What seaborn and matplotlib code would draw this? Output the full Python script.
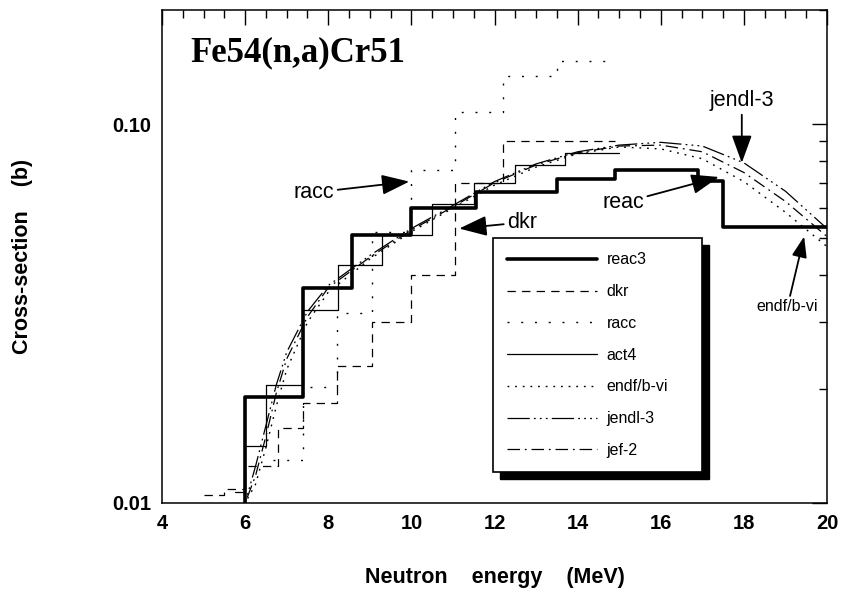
import numpy as np
import pandas as pd
import matplotlib
matplotlib.use("Agg")
import matplotlib.pyplot as plt
import matplotlib.ticker as mticker
from matplotlib.patches import Rectangle
import seaborn as sns

# ---------------- data ----------------
reac3_edges = [5.0, 6.0, 7.4, 8.57, 10.0, 11.55, 13.5, 14.9, 16.9, 17.5, 20.0]
reac3_vals = [0.005, 0.019, 0.037, 0.051, 0.060, 0.066, 0.0715, 0.0755, 0.0707, 0.0534]

dkr_edges = [5.0, 5.5, 6.0, 6.8, 7.4, 8.2, 9.05, 10.0, 11.05, 12.2, 14.9]
dkr_vals = [0.0105, 0.0109, 0.0125, 0.0158, 0.0184, 0.023, 0.030, 0.040, 0.070, 0.090]

racc_edges = [6.67, 7.4, 8.2, 9.05, 10.0, 11.05, 12.2, 13.5, 14.9]
racc_vals = [0.013, 0.0202, 0.0318, 0.052, 0.0758, 0.1077, 0.134, 0.147]

act4_edges = [5.75, 6.0, 6.5, 7.4, 8.23, 9.3, 10.5, 11.5, 12.5, 13.7, 15.0]
act4_vals = [0.0107, 0.0141, 0.0205, 0.0324, 0.0424, 0.051, 0.0615, 0.070, 0.078, 0.084]

curve_energy = [5.9, 6.0, 6.25, 6.5, 6.75, 7.0, 7.5, 8.0, 9.0, 10.0, 11.0, 12.0,
                13.0, 14.0, 15.0, 16.0, 17.0, 18.0, 19.0, 20.0]
endf_vals = [0.0090, 0.0100, 0.0112, 0.0140, 0.0180, 0.0225, 0.0300, 0.0360, 0.0440,
             0.0520, 0.0600, 0.0690, 0.0770, 0.0835, 0.0870, 0.0860, 0.0810, 0.0705,
             0.0585, 0.0475]
jendl3_vals = [0.0090, 0.0100, 0.0125, 0.0160, 0.0205, 0.0250, 0.0320, 0.0375, 0.0450,
               0.0530, 0.0610, 0.0705, 0.0785, 0.0845, 0.0880, 0.0895, 0.0875, 0.0790,
               0.0665, 0.0530]
jef2_vals = [0.0090, 0.0100, 0.0118, 0.0150, 0.0195, 0.0240, 0.0310, 0.0370, 0.0445,
             0.0525, 0.0605, 0.0700, 0.0780, 0.0840, 0.0875, 0.0880, 0.0845, 0.0745,
             0.0625, 0.0505]

series_names = ["reac3", "dkr", "racc", "act4", "endf/b-vi", "jendl-3", "jef-2"]
xtick_vals = [4, 6, 8, 10, 12, 14, 16, 18, 20]
ytick_vals = [0.01, 0.1]
ytick_labels = ["0.01", "0.10"]

title_text = "Fe54(n,a)Cr51"
xlabel_text = "Neutron    energy    (MeV)"
ylabel_text = "Cross-section    (b)"

# ---------------- figure ----------------
sns.set_theme(style="white")
plt.rcParams["font.family"] = ["Liberation Sans", "DejaVu Sans"]
plt.rcParams["lines.scale_dashes"] = False
plt.rcParams["axes.edgecolor"] = "black"
plt.rcParams["text.color"] = "black"
plt.rcParams["axes.labelcolor"] = "black"
plt.rcParams["xtick.color"] = "black"
plt.rcParams["ytick.color"] = "black"

fig = plt.figure(figsize=(8.44, 5.94), dpi=100)
ax = fig.add_axes([162 / 844, 1 - 503 / 594, 665 / 844, 493 / 594])


def step_df(edges, vals):
    return pd.DataFrame({"E": edges, "s": list(vals) + [vals[-1]]})


styles = {
    "reac3": dict(lw=2.6, ls="-"),
    "dkr": dict(lw=0.9, ls=(0, (6, 4.5))),
    "racc": dict(lw=1.0, ls=(0, (1.4, 8.5))),
    "act4": dict(lw=0.9, ls="-"),
    "endf/b-vi": dict(lw=1.0, ls=(0, (1.3, 4.2))),
    "jendl-3": dict(lw=0.9, ls=(0, (16, 3, 1.3, 3, 1.3, 3, 1.3, 3))),
    "jef-2": dict(lw=0.9, ls=(0, (9, 3.5, 1.3, 3.5))),
}

step_data = {
    "reac3": step_df(reac3_edges, reac3_vals),
    "dkr": step_df(dkr_edges, dkr_vals),
    "racc": step_df(racc_edges, racc_vals),
    "act4": step_df(act4_edges, act4_vals),
}
curve_data = {
    "endf/b-vi": pd.DataFrame({"E": curve_energy, "s": endf_vals}),
    "jendl-3": pd.DataFrame({"E": curve_energy, "s": jendl3_vals}),
    "jef-2": pd.DataFrame({"E": curve_energy, "s": jef2_vals}),
}

for name in series_names:
    st = styles[name]
    if name in step_data:
        sns.lineplot(data=step_data[name], x="E", y="s", ax=ax, color="black",
                     lw=st["lw"], linestyle=st["ls"], drawstyle="steps-post",
                     label=name, sort=False, estimator=None)
    else:
        sns.lineplot(data=curve_data[name], x="E", y="s", ax=ax, color="black",
                     lw=st["lw"], linestyle=st["ls"], label=name,
                     sort=False, estimator=None)

ax.set_yscale("log")
ax.set_xlim(4, 20)
ax.set_ylim(0.01, 0.2)

ax.set_xticks(xtick_vals)
ax.set_xticklabels([str(v) for v in xtick_vals], fontweight="bold")
ax.xaxis.set_minor_locator(mticker.MultipleLocator(0.5))
ax.set_yticks(ytick_vals)
ax.set_yticklabels(ytick_labels, fontweight="bold")
ax.yaxis.set_minor_locator(mticker.LogLocator(base=10, subs=np.arange(2, 10)))
ax.yaxis.set_minor_formatter(mticker.NullFormatter())

ax.tick_params(which="both", direction="in", top=True, right=True, colors="black",
               width=1.0)
ax.tick_params(which="major", length=11, labelsize=14.5, pad=8)
ax.tick_params(which="minor", length=5.5)
for s in ax.spines.values():
    s.set_linewidth(1.1)
    s.set_color("black")

ax.set_xlabel(xlabel_text, fontsize=15.5, fontweight="bold")
ax.set_ylabel(ylabel_text, fontsize=15.5, fontweight="bold")
ax.xaxis.label.set_va("center")
ax.yaxis.label.set_va("center")
ax.xaxis.set_label_coords(0.5, (503 - 577) / 493)
ax.yaxis.set_label_coords((23 - 162) / 665, 0.5)

ax.text((190 - 162) / 665, (503 - 61) / 493, title_text, transform=ax.transAxes,
        fontsize=25, fontweight="bold", family=["Liberation Serif", "DejaVu Serif"],
        ha="left", va="baseline")

# annotations with arrows (data coordinates)
arrow = dict(arrowstyle="-|>,head_length=1.1,head_width=0.4", color="black",
             lw=1.3, shrinkA=0, shrinkB=0)
ax.annotate("racc", xy=(9.95, 0.0705), xytext=(8.15, 0.066), fontsize=15.5,
            ha="right", va="center", arrowprops=arrow)
ax.annotate("dkr", xy=(11.15, 0.053), xytext=(12.3, 0.055), fontsize=15.5,
            ha="left", va="center", arrowprops=arrow)
ax.annotate("reac", xy=(17.4, 0.0725), xytext=(15.6, 0.062), fontsize=15.5,
            ha="right", va="center", arrowprops=arrow)
ax.annotate("jendl-3", xy=(17.95, 0.079), xytext=(17.95, 0.108), fontsize=15.5,
            ha="center", va="bottom", arrowprops=arrow)
ax.annotate("endf/b-vi", xy=(19.45, 0.0505), xytext=(19.05, 0.0345), fontsize=11.5,
            ha="center", va="top", arrowprops=arrow)

leg = ax.legend(loc="upper left",
                bbox_to_anchor=((493 - 162) / 665, 0.06, (702 - 493) / 665, (503 - 238) / 493 - 0.06),
                mode="expand", frameon=True, fancybox=False, fontsize=11.5,
                handlelength=5.6, handletextpad=0.6, labelspacing=1.05,
                borderpad=0.9, borderaxespad=0.0)
leg.get_frame().set_edgecolor("black")
leg.get_frame().set_linewidth(1.2)
leg.get_frame().set_facecolor("white")
leg.get_frame().set_alpha(1)
leg.set_zorder(5)

fig.canvas.draw()
bb = leg.get_window_extent().transformed(ax.transAxes.inverted())
dx = 7 / 665
dy = 7 / 493
shadow = Rectangle((bb.x0 + dx, bb.y0 - dy), bb.width, bb.height, transform=ax.transAxes,
                   facecolor="black", edgecolor="black", zorder=4.5, clip_on=False)
ax.add_patch(shadow)

fig.savefig("out.png", dpi=100, facecolor="white")
